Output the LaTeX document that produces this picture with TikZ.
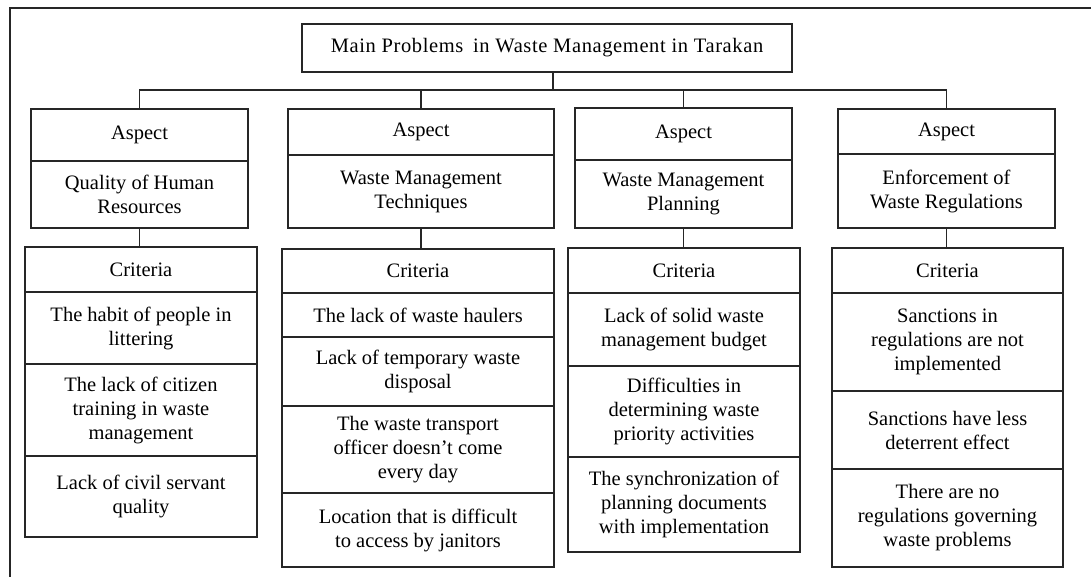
\documentclass[tikz,border=0pt]{standalone}
\usepackage{fontspec}
\setmainfont{Liberation Serif}
\usetikzlibrary{positioning}
\definecolor{edge}{HTML}{262626}

\begin{document}
\begin{tikzpicture}[
  x=1pt, y=-1pt,
  font=\fontsize{20.5}{24}\selectfont,
  box/.style={draw=edge, line width=1.3pt, align=center, inner sep=2pt, outer sep=0pt},
  aspw/.style={box, minimum width=217pt},
  link/.style={draw=edge, line width=1.3pt},
  node distance=0pt,
]
\useasboundingbox (0,0) rectangle (1091,577);
\draw[edge, line width=2.4pt] (10,577) -- (10,8) -- (1091,8);

\node[box, minimum width=490pt, minimum height=48pt] (title) at (547,48) {\addfontfeature{LetterSpace=3}Main Problems\hspace{4pt} in Waste Management in Tarakan};

% aspects
\node[aspw, minimum height=52pt] (asp1) at (139.5,135) {Aspect};
\node[aspw, minimum height=67pt, below=of asp1] (human) {Quality of Human\\Resources};
\node[box, minimum width=266pt, minimum height=46pt] (asp2) at (421,132) {Aspect};
\node[box, minimum width=266pt, minimum height=73pt, below=of asp2] (tech) {Waste Management\\Techniques};
\node[aspw, minimum height=52pt] (asp3) at (683.5,134) {Aspect};
\node[aspw, minimum height=68pt, below=of asp3] (plan) {Waste Management\\Planning};
\node[aspw, minimum height=45pt] (asp4) at (946.5,131.5) {Aspect};
\node[aspw, minimum height=74pt, below=of asp4] (enforce) {Enforcement of\\Waste Regulations};

% criteria, column 1
\node[box, minimum width=232pt, minimum height=45pt] (crit1) at (141,269.5) {Criteria};
\node[box, minimum width=232pt, minimum height=72pt, below=of crit1] (habit) {The habit of people in\\littering};
\node[box, minimum width=232pt, minimum height=92pt, below=of habit] (training) {The lack of citizen\\training in waste\\management};
\node[box, minimum width=232pt, minimum height=81pt, below=of training] (civil) {Lack of civil servant\\quality};

% criteria, column 2
\node[box, minimum width=272pt, minimum height=44pt] (crit2) at (418,271) {Criteria};
\node[box, minimum width=272pt, minimum height=44pt, below=of crit2] (haulers) {The lack of waste haulers};
\node[box, minimum width=272pt, minimum height=69pt, below=of haulers] (temp) {Lack of temporary waste\\disposal};
\node[box, minimum width=272pt, minimum height=87pt, below=of temp] (officer) {The waste transport\\officer doesn't come\\every day};
\node[box, minimum width=272pt, minimum height=74pt, below=of officer] (access) {Location that is difficult\\to access by janitors};

% criteria, column 3
\node[box, minimum width=232pt, minimum height=45pt] (crit3) at (684,270.5) {Criteria};
\node[box, minimum width=232pt, minimum height=73pt, below=of crit3] (budget) {Lack of solid waste\\management budget};
\node[box, minimum width=232pt, minimum height=91pt, below=of budget] (priority) {Difficulties in\\determining waste\\priority activities};
\node[box, minimum width=232pt, minimum height=95pt, below=of priority] (sync) {The synchronization of\\planning documents\\with implementation};

% criteria, column 4
\node[box, minimum width=231pt, minimum height=45pt] (crit4) at (947.5,270.5) {Criteria};
\node[box, minimum width=231pt, minimum height=98pt, below=of crit4] (sanction) {Sanctions in\\regulations are not\\implemented};
\node[box, minimum width=231pt, minimum height=78pt, below=of sanction] (deter) {Sanctions have less\\deterrent effect};
\node[box, minimum width=231pt, minimum height=98pt, below=of deter] (noreg) {There are no\\regulations governing\\waste problems};

% connectors
\draw[link] ([xshift=6pt]title.south) -- ++(0,18) coordinate (bus);
\draw[link] (bus) -| (asp1.north);
\draw[link] (bus) -| (asp2.north);
\draw[link] (bus) -| (asp3.north);
\draw[link] (bus) -| (asp4.north);
\draw[link] (human.south) -- (human.south |- crit1.north);
\draw[link] (tech.south) -- (tech.south |- crit2.north);
\draw[link] (plan.south) -- (plan.south |- crit3.north);
\draw[link] (enforce.south) -- (enforce.south |- crit4.north);
\end{tikzpicture}
\end{document}
